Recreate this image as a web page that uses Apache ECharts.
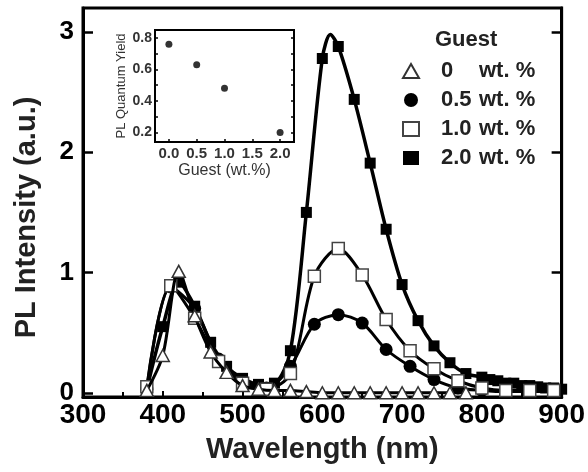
<!DOCTYPE html>
<html><head><meta charset="utf-8">
<script src="https://cdn.jsdelivr.net/npm/echarts@6/dist/echarts.min.js"></script>
<style>html,body{margin:0;padding:0;background:#fff}#c{width:588px;height:472px}</style>
</head><body><div id="c"></div>
<script>
// ---- data ----
const seriesNames = ['0', '0.5', '1.0', '2.0'];
const yTickVals = [0, 1, 2, 3];

const wl0 = [380,400,420,440,460,480,500,520,540,560,580,600,620,640,660,680,700,720,740,760,780];
const pl0 = [0.02,0.31,1.01,0.64,0.34,0.17,0.06,0.03,0.02,0.02,0.01,0,0,0,0,0,0,0,0,0,0];

const wl05 = [380,410,440,470,500,530,560,590,620,650,680,710,740,770,800,830,860,890];
const pl05 = [0.03,0.88,0.70,0.28,0.09,0.04,0.22,0.57,0.65,0.58,0.36,0.22,0.11,0.04,0.02,0.01,0.01,0.01];

const wl10 = [380,410,440,470,500,530,560,590,620,650,680,710,740,770,800,830,860,890];
const pl10 = [0.05,0.89,0.62,0.26,0.08,0.03,0.16,0.97,1.20,0.98,0.61,0.35,0.20,0.10,0.04,0.02,0.02,0.02];

const wl20 = [380,400,420,440,460,480,500,520,540,560,580,600,610,620,640,660,680,700,720,740,760,780,800,810,820,830,840,850,860,870,880,890,900];
const pl20 = [0.03,0.55,0.92,0.72,0.42,0.22,0.12,0.07,0.08,0.35,1.50,2.78,2.98,2.88,2.44,1.91,1.36,0.90,0.60,0.39,0.25,0.16,0.13,0.11,0.10,0.08,0.08,0.06,0.06,0.05,0.04,0.04,0.03];
const unmarked20 = [610];

// inset: PL quantum yield vs guest concentration
const guestWt = [0.0, 0.5, 1.0, 2.0];
const plqy = [0.76, 0.63, 0.48, 0.20];
const insetXLabels = [0, 0.5, 1.0, 1.5, 2.0];
const insetYLabels = [0.2, 0.4, 0.6, 0.8];
const insetYTicks = [0.2, 0.3, 0.4, 0.5, 0.6, 0.7, 0.8];

// ---- chart ----
const FONT = 'Liberation Sans, Arial, Helvetica, sans-serif';
const pairs = (xs, ys, skip) => xs.map((x, i) => (skip && skip.includes(x)) ? {value: [x, ys[i]], symbol: 'none'} : [x, ys[i]]);

const chart = echarts.init(document.getElementById('c'), null, {renderer: 'canvas'});
const mainY = {min: -0.035, max: 3.2};

chart.setOption({
  backgroundColor: '#fff',
  animation: false,
  title: {text: 'Guest', left: 435, top: 29, padding: 0,
    textStyle: {fontSize: 22, fontWeight: 'bold', color: '#222', fontFamily: FONT}},
  legend: {
    data: [
      {name: '0', icon: 'triangle'},
      {name: '0.5', icon: 'circle'},
      {name: '1.0', icon: 'rect'},
      {name: '2.0', icon: 'rect'}
    ],
    orient: 'vertical', left: 402, top: 59, padding: 0,
    itemWidth: 16, itemHeight: 14, itemGap: 5, selectedMode: false,
    formatter: n => '{a|' + n + '}{b|wt. %}',
    textStyle: {
      fontSize: 22, fontWeight: 'bold', color: '#222', fontFamily: FONT, lineHeight: 24,
      rich: {
        a: {fontSize: 22, fontWeight: 'bold', color: '#222', fontFamily: FONT, width: 38, padding: [0, 0, 0, 17], lineHeight: 24},
        b: {fontSize: 22, fontWeight: 'bold', color: '#222', fontFamily: FONT, lineHeight: 24}
      }
    }
  },
  grid: [
    {left: 83, right: 21, top: 8, bottom: 75, show: true, borderColor: '#000', borderWidth: 3},
    {left: 155, top: 30, width: 139, height: 112, show: true, borderColor: '#000', borderWidth: 2, z: 5}
  ],
  xAxis: [
    {
      gridIndex: 0, type: 'value', min: 300, max: 900, interval: 100,
      axisLine: {show: true, onZero: false, lineStyle: {color: '#000', width: 3}},
      axisTick: {show: true, inside: true, length: 6, lineStyle: {color: '#000', width: 2}},
      minorTick: {show: true, splitNumber: 2, length: 5, lineStyle: {color: '#000', width: 2}},
      splitLine: {show: false},
      axisLabel: {fontSize: 28, fontWeight: 'bold', color: '#000', fontFamily: FONT, margin: 4, showMinLabel: true, showMaxLabel: true},
      name: 'Wavelength (nm)', nameLocation: 'middle', nameGap: 38,
      nameTextStyle: {fontSize: 29, fontWeight: 'bold', color: '#222', fontFamily: FONT}
    },
    {
      gridIndex: 1, type: 'value', min: -0.25, max: 2.25,
      axisLine: {show: true, onZero: false, lineStyle: {color: '#000', width: 2}},
      axisTick: {show: true, inside: true, length: 3, customValues: insetXLabels, lineStyle: {color: '#000', width: 1.5}},
      splitLine: {show: false},
      axisLabel: {customValues: insetXLabels, formatter: v => v.toFixed(1), fontSize: 15, fontWeight: 'bold', color: '#333', fontFamily: FONT, margin: 4},
      name: 'Guest (wt.%)', nameLocation: 'middle', nameGap: 21,
      nameTextStyle: {fontSize: 16, color: '#333', fontFamily: FONT}
    }
  ],
  yAxis: [
    {
      gridIndex: 0, type: 'value', min: mainY.min, max: mainY.max,
      axisLine: {show: true, onZero: false, lineStyle: {color: '#000', width: 3}},
      axisTick: {show: true, inside: true, length: 10, customValues: yTickVals, lineStyle: {color: '#000', width: 2.5}},
      splitLine: {show: false},
      axisLabel: {customValues: yTickVals, fontSize: 26, fontWeight: 'bold', color: '#000', fontFamily: FONT, margin: 9},
      name: 'PL Intensity (a.u.)', nameLocation: 'middle', nameGap: 42, nameRotate: 90,
      nameTextStyle: {fontSize: 29, fontWeight: 'bold', color: '#222', fontFamily: FONT, padding: [0, 30, 0, 0]}
    },
    {
      gridIndex: 0, type: 'value', position: 'right', min: mainY.min, max: mainY.max,
      axisLine: {show: true, onZero: false, lineStyle: {color: '#000', width: 3}},
      axisTick: {show: true, inside: true, length: 10, customValues: yTickVals, lineStyle: {color: '#000', width: 2.5}},
      splitLine: {show: false}, axisLabel: {show: false}
    },
    {
      gridIndex: 1, type: 'value', min: 0.14, max: 0.85,
      axisLine: {show: true, onZero: false, lineStyle: {color: '#000', width: 2}},
      axisTick: {show: true, inside: true, length: 3, customValues: insetYTicks, lineStyle: {color: '#000', width: 1.5}},
      splitLine: {show: false},
      axisLabel: {customValues: insetYLabels, formatter: v => v.toFixed(1), fontSize: 14, fontWeight: 'bold', color: '#333', fontFamily: FONT, margin: 3},
      name: 'PL Quantum Yield', nameLocation: 'middle', nameGap: 27, nameRotate: 90,
      nameTextStyle: {fontSize: 13, color: '#333', fontFamily: FONT}
    },
    {
      gridIndex: 1, type: 'value', position: 'right', min: 0.14, max: 0.85,
      axisLine: {show: true, onZero: false, lineStyle: {color: '#000', width: 2}},
      axisTick: {show: true, inside: true, length: 3, customValues: insetYTicks, lineStyle: {color: '#000', width: 1.5}},
      splitLine: {show: false}, axisLabel: {show: false}
    }
  ],
  series: [
    {
      name: '2.0', type: 'line', xAxisIndex: 0, yAxisIndex: 0, smooth: 0.3, z: 2,
      data: pairs(wl20, pl20, unmarked20),
      symbol: 'rect', symbolSize: 11, showAllSymbol: true,
      lineStyle: {color: '#000', width: 3.5},
      itemStyle: {color: '#000', borderColor: '#000', borderWidth: 0}
    },
    {
      name: '0.5', type: 'line', xAxisIndex: 0, yAxisIndex: 0, smooth: 0.3, z: 3,
      data: pairs(wl05, pl05),
      symbol: 'circle', symbolSize: 13, showAllSymbol: true,
      lineStyle: {color: '#000', width: 3},
      itemStyle: {color: '#000', borderColor: '#000', borderWidth: 0}
    },
    {
      name: '1.0', type: 'line', xAxisIndex: 0, yAxisIndex: 0, smooth: 0.3, z: 4,
      data: pairs(wl10, pl10),
      symbol: 'rect', symbolSize: 12, showAllSymbol: true,
      lineStyle: {color: '#000', width: 3},
      itemStyle: {color: '#fff', borderColor: '#444', borderWidth: 1.5}
    },
    {
      name: '0', type: 'line', xAxisIndex: 0, yAxisIndex: 0, smooth: 0.3, z: 5,
      data: pairs(wl0, pl0),
      symbol: 'triangle', symbolSize: [13, 12], showAllSymbol: true,
      lineStyle: {color: '#000', width: 3},
      itemStyle: {color: '#fff', borderColor: '#333', borderWidth: 1.5}
    },
    {
      name: 'PLQY', type: 'scatter', xAxisIndex: 1, yAxisIndex: 2, z: 6,
      data: pairs(guestWt, plqy),
      symbol: 'circle', symbolSize: 7,
      itemStyle: {color: '#000'}
    }
  ]
});
</script>
</body></html>
